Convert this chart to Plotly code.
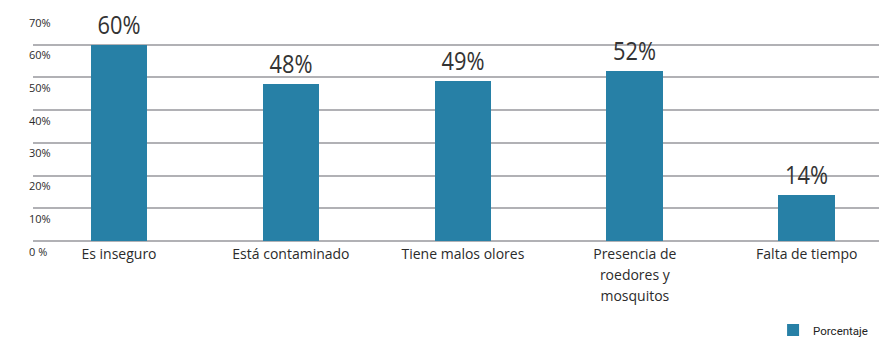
import plotly.graph_objects as go

# Survey results: reasons given, share of respondents (%)
categories = ["Es inseguro", "Está contaminado", "Tiene malos olores",
              "Presencia de<br>roedores y<br>mosquitos", "Falta de tiempo"]
values = [60, 48, 49, 52, 14]
series_name = "Porcentaje"

y_ticks = [0, 10, 20, 30, 40, 50, 60, 70]
y_tick_labels = ["0 %", "10%", "20%", "30%", "40%", "50%", "60%", "70%"]

BAR = "#2780a6"
GRID = "#b1b1b5"
TEXT = "#2b2b2b"
SANS = "Open Sans, sans-serif"

# larger axis font gives roomier line spacing; each line is drawn at 14px
tick_text = ["<br>".join(f"<span style='font-size:14px'>{part}</span>"
                         for part in c.split("<br>")) for c in categories]

fig = go.Figure()
fig.add_trace(go.Bar(
    x=list(range(len(categories))),
    y=values,
    name=series_name,
    marker=dict(color=BAR, line=dict(width=0)),
    width=0.33,
    text=[f"{v}%" for v in values],
    textposition="outside",
    textfont=dict(family=SANS, size=26, color="#333333"),
    cliponaxis=False,
    showlegend=True,
))

# y tick labels sit just beneath their gridlines
for v, lab in zip(y_ticks, y_tick_labels):
    fig.add_annotation(x=0, xref="paper", xanchor="left", xshift=-6,
                       y=v, yref="y", yanchor="middle", yshift=-10,
                       text=lab, showarrow=False,
                       font=dict(family=SANS, size=11, color=TEXT))

fig.update_layout(
    width=879, height=338,
    margin=dict(l=33, r=0, t=12, b=97, autoexpand=False),
    paper_bgcolor="white", plot_bgcolor="white",
    bargap=0,
    xaxis=dict(
        tickmode="array", tickvals=list(range(len(categories))), ticktext=tick_text,
        range=[-0.5, 4.42], showgrid=False, zeroline=False, showline=False,
        ticks="", ticklabelstandoff=1,
        tickfont=dict(family=SANS, size=16, color=TEXT),
    ),
    yaxis=dict(
        range=[0, 70], tickvals=y_ticks, showticklabels=False,
        showgrid=True, gridcolor=GRID, gridwidth=2,
        zeroline=True, zerolinecolor=GRID, zerolinewidth=2, showline=False,
    ),
    legend=dict(x=0.993, xanchor="right", y=-0.389, yanchor="middle",
                orientation="h", bgcolor="rgba(0,0,0,0)",
                font=dict(family="Roboto, sans-serif", size=11.5, color="#222222")),
    showlegend=True,
)

# narrow the value labels horizontally (condensed look)
condense = """
var gd = document.getElementById('{plot_id}');
gd.querySelectorAll('text.bartext').forEach(function (t) {
  var w = t.getComputedTextLength();
  t.setAttribute('textLength', (w * 0.84).toFixed(1));
  t.setAttribute('lengthAdjust', 'spacingAndGlyphs');
});
"""

fig.write_html("out.html", post_script=condense)
